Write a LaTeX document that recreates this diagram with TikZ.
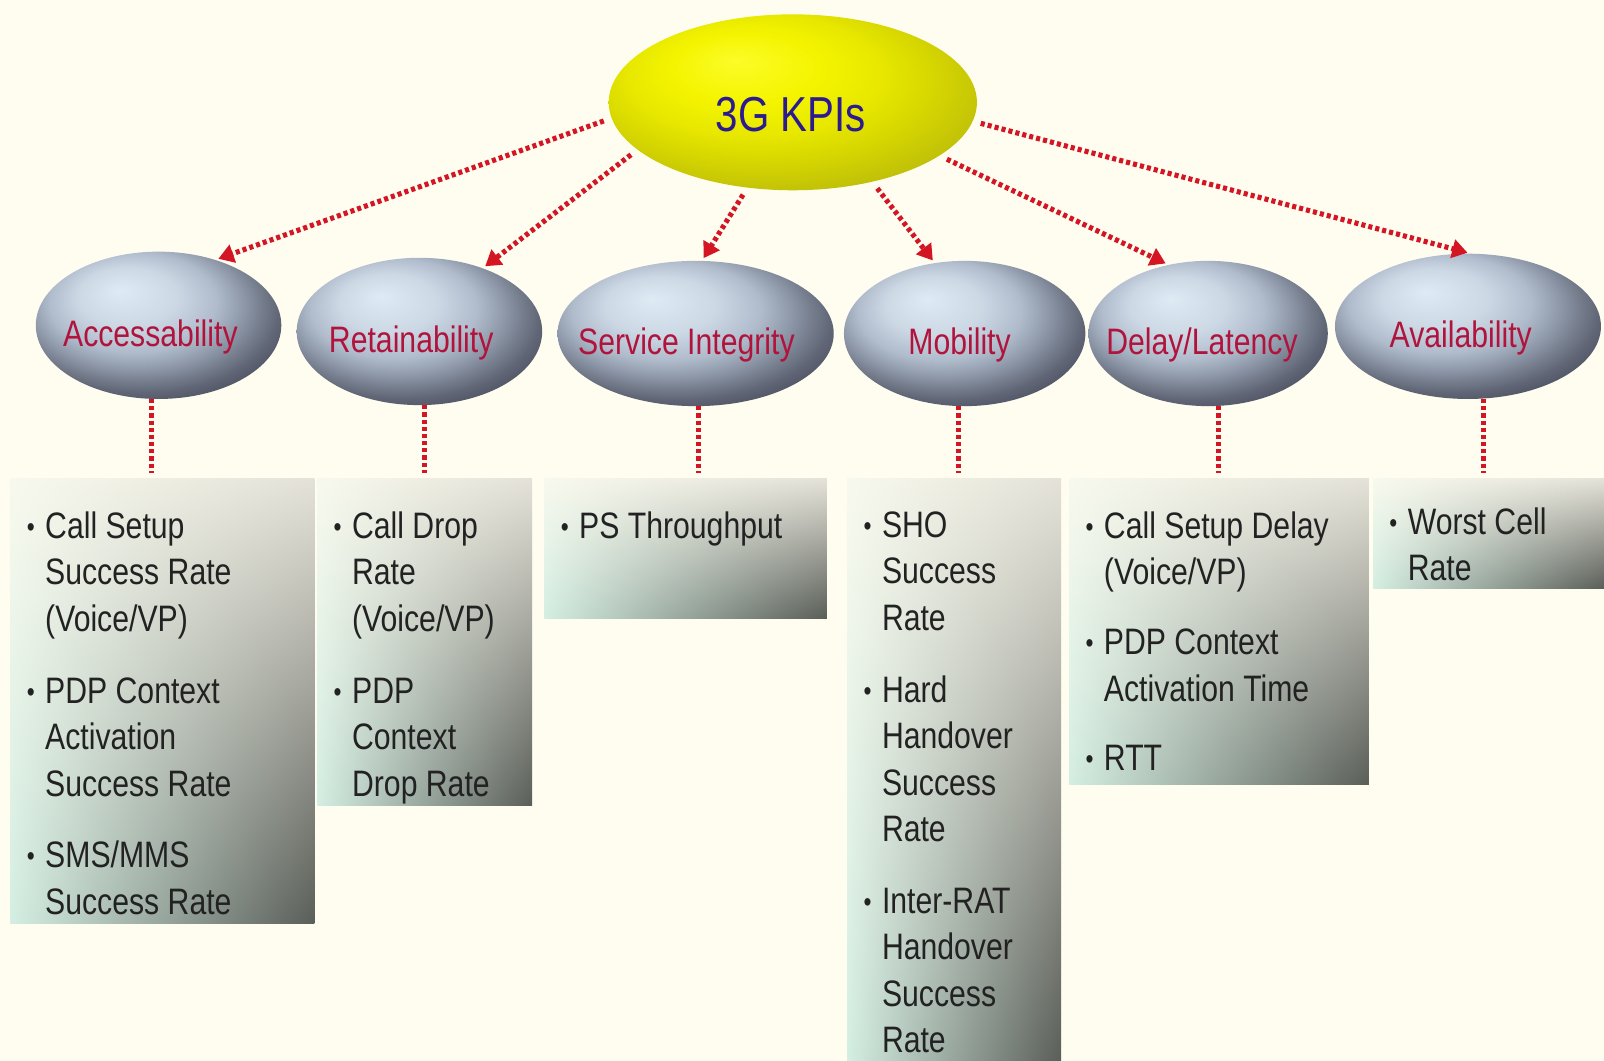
\documentclass[tikz,border=0pt]{standalone}
\usepackage{fontspec}
\setmainfont{Liberation Sans}[FakeStretch=0.82]
\usetikzlibrary{shapes.geometric,arrows.meta,calc,shadings}
\definecolor{bg}{RGB}{255,253,240}
\definecolor{kred}{RGB}{212,22,36}
\definecolor{lblred}{RGB}{176,20,60}
\definecolor{navy}{RGB}{43,26,144}
\definecolor{txt}{RGB}{34,34,34}
\definecolor{yy0}{RGB}{252,252,40}
\definecolor{yy1}{RGB}{244,244,0}
\definecolor{yy2}{RGB}{232,232,0}
\definecolor{yy3}{RGB}{218,218,0}
\definecolor{yy4}{RGB}{200,200,6}
\definecolor{yy5}{RGB}{178,178,14}
\definecolor{gg0}{RGB}{222,234,244}
\definecolor{gg1}{RGB}{204,216,228}
\definecolor{gg2}{RGB}{176,188,204}
\definecolor{gg3}{RGB}{140,150,166}
\definecolor{gg4}{RGB}{96,102,118}
\definecolor{gg5}{RGB}{62,66,80}
\definecolor{bul}{RGB}{248,249,238}
\definecolor{bur}{RGB}{228,226,216}
\definecolor{bll}{RGB}{212,238,226}
\definecolor{blr}{RGB}{90,94,88}
\pgfdeclareradialshading{yballsh}{\pgfpoint{-8bp}{12bp}}{color(0bp)=(yy0); color(10bp)=(yy1); color(17bp)=(yy2); color(22bp)=(yy3); color(28bp)=(yy4); color(35bp)=(yy5); color(50bp)=(yy5)}
\pgfdeclareradialshading{gballsh}{\pgfpoint{-8bp}{12bp}}{color(0bp)=(gg0); color(10bp)=(gg1); color(17bp)=(gg2); color(22bp)=(gg3); color(28bp)=(gg4); color(35bp)=(gg5); color(50bp)=(gg5)}
\newcommand\kbul{\makebox[18pt][l]{\raisebox{2pt}{\scalebox{0.75}{\textbullet}}}}
\newcommand\kind{\hspace*{18pt}}
\tikzset{
  topell/.style={ellipse, shade, shading=yballsh, minimum width=360pt, minimum height=172pt, inner sep=0pt},
  kpiell/.style={ellipse, shade, shading=gballsh, inner sep=0pt},
  lbl/.style={text=lblred, font=\fontsize{36}{40}\selectfont, inner sep=0pt},
  ttl/.style={text=navy, font=\fontsize{48}{52}\selectfont, inner sep=0pt},
  kbox/.style={rectangle, anchor=north west, inner sep=0pt, shade, upper left=bul, upper right=bur, lower left=bll, lower right=blr},
  arr/.style={draw=kred, line width=5pt, dash pattern=on 4pt off 3pt, -{Triangle[length=15pt,width=18pt]}, shorten <=8pt, shorten >=3pt},
  vline/.style={draw=kred, line width=4.5pt, dash pattern=on 4pt off 3pt, shorten >=6pt},
  btext/.style={anchor=north west, inner sep=0pt, align=left, text=txt, font=\fontsize{36}{45.5}\selectfont},
}
\begin{document}
\begin{tikzpicture}[x=1pt,y=-1pt]
\useasboundingbox (0,0) rectangle (1568,1037);
\fill[bg] (0,0) rectangle (1568,1037);

% boxes
\node[kbox, minimum width=297pt, minimum height=435pt] (b1) at (10,468) {};
\node[kbox, minimum width=210pt, minimum height=319pt] (b2) at (310,468) {};
\node[kbox, minimum width=276pt, minimum height=136pt] (b3) at (532,468) {};
\node[kbox, minimum width=209pt, minimum height=569pt] (b4) at (828,468) {};
\node[kbox, minimum width=293pt, minimum height=299pt] (b5) at (1045,468) {};
\node[kbox, minimum width=226pt, minimum height=107pt] (b6) at (1342,468) {};

% box texts
\node[btext] (t1) at (26,500) {\kbul Call Setup\\\kind Success Rate\\\kind (Voice/VP)\\[24.5pt]\kbul PDP Context\\\kind Activation\\\kind Success Rate\\[24.5pt]\kbul SMS/MMS\\\kind Success Rate};
\node[btext] (t2) at (326,500) {\kbul Call Drop\\\kind Rate\\\kind (Voice/VP)\\[24.5pt]\kbul PDP\\\kind Context\\\kind Drop Rate};
\node[btext] (t3) at (548,500) {\kbul PS Throughput};
\node[btext] (t4) at (844,500) {\kbul SHO\\\kind Success\\\kind Rate\\[24.5pt]\kbul Hard\\\kind Handover\\\kind Success\\\kind Rate\\[24.5pt]\kbul Inter-RAT\\\kind Handover\\\kind Success\\\kind Rate};
\node[btext] (t5) at (1061,500) {\kbul Call Setup Delay\\\kind (Voice/VP)\\[22.5pt]\kbul PDP Context\\\kind Activation Time\\[22.5pt]\kbul RTT};
\node[btext] (t6) at (1358,496) {\kbul Worst Cell\\\kind Rate};

% ellipses
\node[topell, label={[ttl,xshift=-2pt,yshift=-12pt]center:3G KPIs}] (top) at (775,100) {};
\node[kpiell, minimum width=240pt, minimum height=144pt, label={[lbl,xshift=-8pt,yshift=-11pt]center:Accessability}] (acc) at (155,318) {};
\node[kpiell, minimum width=240pt, minimum height=144pt, label={[lbl,xshift=-8pt,yshift=-11pt]center:Retainability}] (ret) at (410,324) {};
\node[kpiell, minimum width=270pt, minimum height=142pt, label={[lbl,xshift=-9pt,yshift=-11pt]center:Service Integrity}] (svc) at (680,326) {};
\node[kpiell, minimum width=236pt, minimum height=142pt, label={[lbl,xshift=-5pt,yshift=-11pt]center:Mobility}] (mob) at (943,326) {};
\node[kpiell, minimum width=234pt, minimum height=142pt, label={[lbl,xshift=-6pt,yshift=-11pt]center:Delay/Latency}] (del) at (1181,326) {};
\node[kpiell, minimum width=260pt, minimum height=142pt, label={[lbl,xshift=-7pt,yshift=-11pt]center:Availability}] (ava) at (1435,319) {};

% arrows from top
\draw[arr] (top.185) -- (acc.49);
\draw[arr] (top.197) -- (ret.45);
\draw[arr] (top.242) -- (svc.85);
\draw[arr] (top.315) -- (mob.113);
\draw[arr] (top.340) -- (del.120);
\draw[arr] (top.354) -- (ava.88);

% vertical connectors
\draw[vline] ([xshift=-7pt]acc.south) -- ([xshift=-7pt]acc.south |- b1.north);
\draw[vline] ([xshift=5pt]ret.south) -- ([xshift=5pt]ret.south |- b2.north);
\draw[vline] ([xshift=3pt]svc.south) -- ([xshift=3pt]svc.south |- b3.north);
\draw[vline] ([xshift=-6pt]mob.south) -- ([xshift=-6pt]mob.south |- b4.north);
\draw[vline] ([xshift=10pt]del.south) -- ([xshift=10pt]del.south |- b5.north);
\draw[vline] ([xshift=15pt]ava.south) -- ([xshift=15pt]ava.south |- b6.north);
\end{tikzpicture}
\end{document}
